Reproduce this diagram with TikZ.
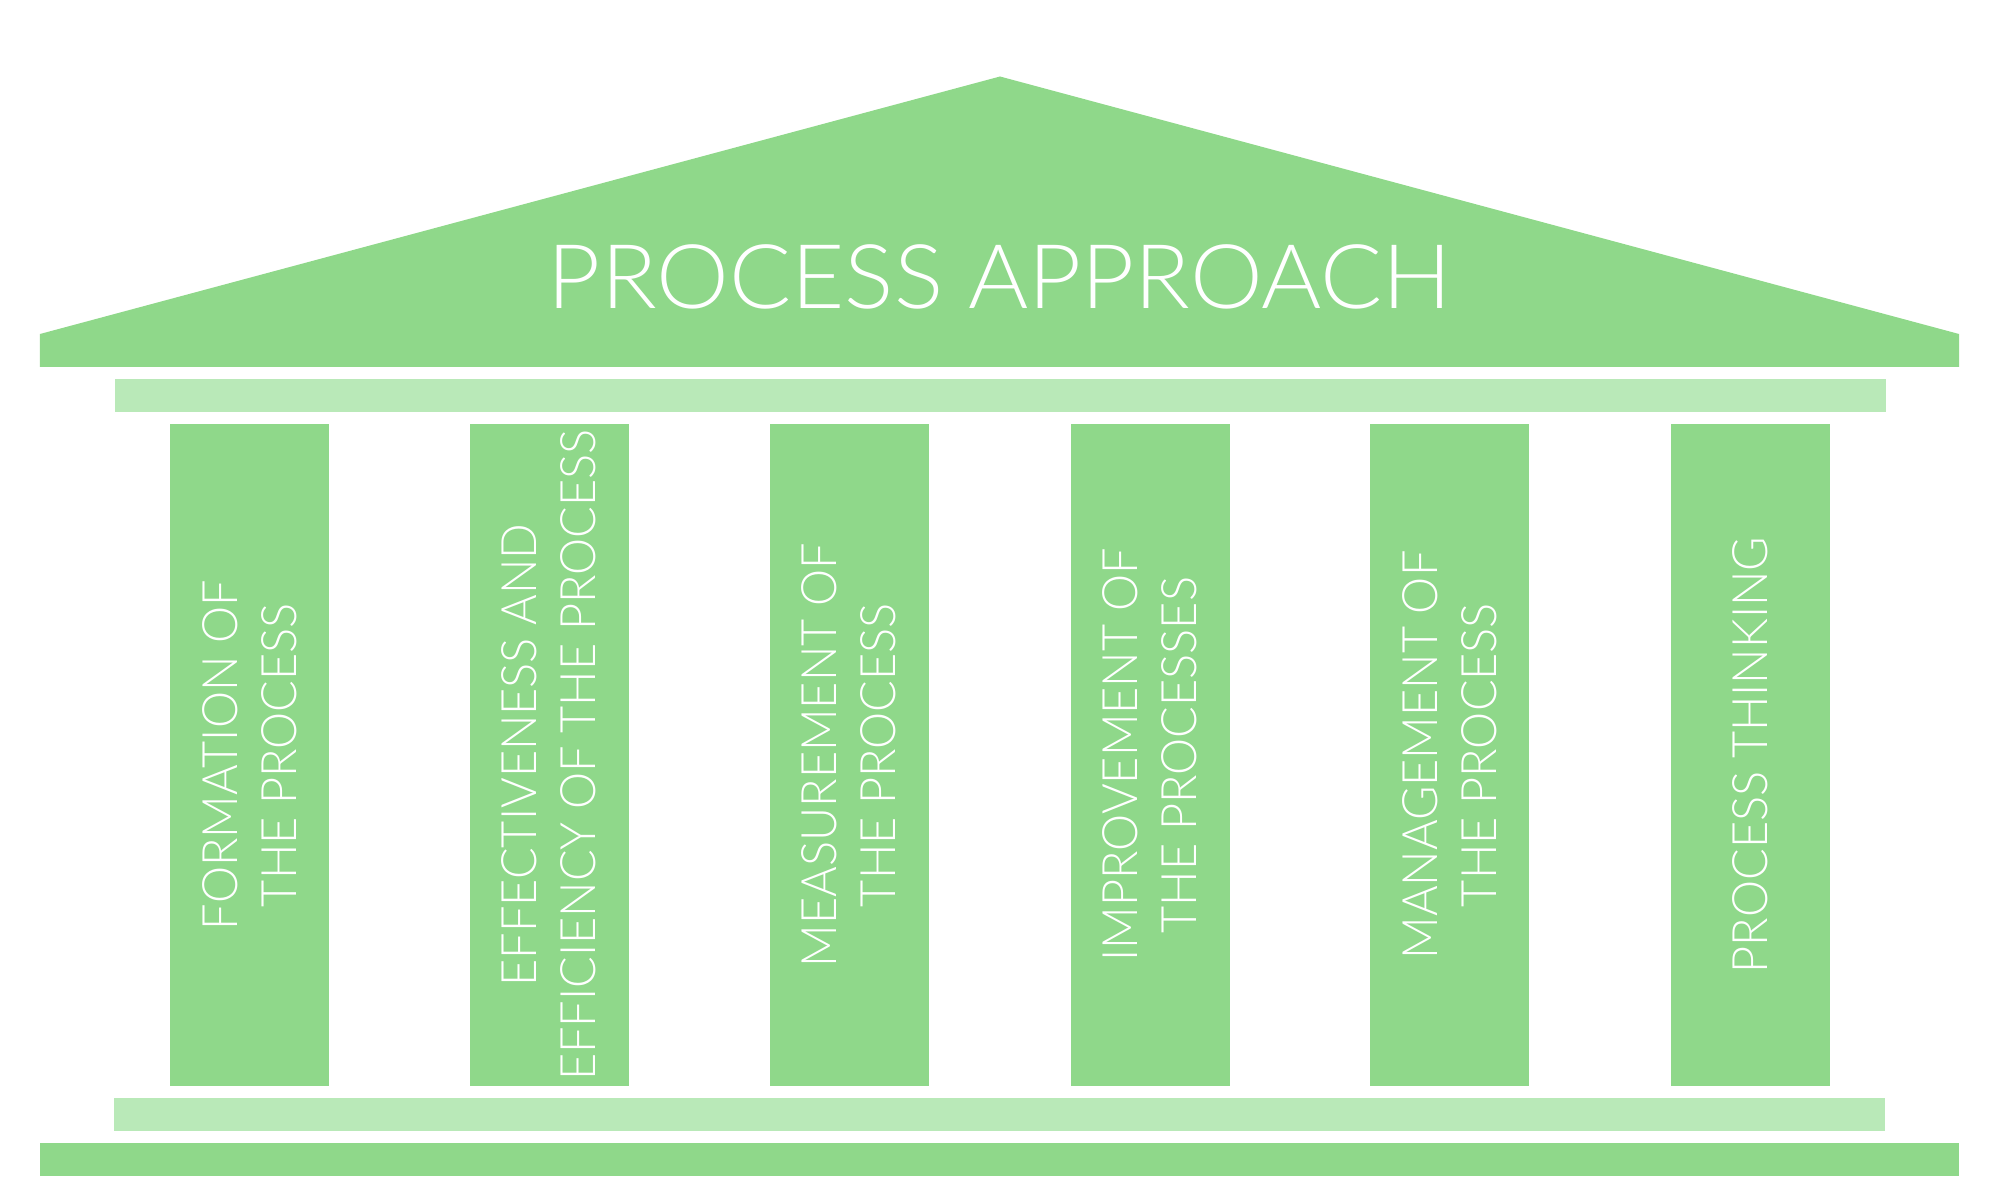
\documentclass[tikz,border=0pt]{standalone}
\usepackage{fontspec}
\setmainfont{Lato}[UprightFont=* Light,FakeStretch=0.96]
\newfontfamily\roofface{Lato}[UprightFont=* Light,FakeStretch=1.03]
\usepackage{tikz}
\definecolor{pillargreen}{HTML}{8FD88A}
\definecolor{barlight}{HTML}{B9E9B8}

\begin{document}
\begin{tikzpicture}[pillar/.style={fill=pillargreen,inner sep=0pt,minimum width=1.59cm,minimum height=6.62cm},
  pillartext/.style={rotate=90,align=center,text=white,inner sep=0pt,font=\fontsize{13.9}{16.8}\selectfont}]
  \useasboundingbox (0,0) rectangle (20,12);
  % tejado
  \fill[pillargreen] (0.40,8.33)--(0.40,8.66)--(10.0,11.235)--(19.59,8.66)--(19.59,8.33)--cycle;
  \node[anchor=base,text=white,font=\roofface\fontsize{25.4}{30}\selectfont] (title) at (10.0,8.91){PROCESS APPROACH};
  % barras
  \fill[barlight] (1.15,7.88) rectangle (18.86,8.21);
  \fill[barlight] (1.14,0.69) rectangle (18.85,1.02);
  \fill[pillargreen] (0.40,0.24) rectangle (19.59,0.57);
  % columnas
  \node[pillar] (formation) at (2.495,4.45){};
  \node[pillar] (efficiency) at (5.49,4.45){};
  \node[pillar] (measurement) at (8.49,4.45){};
  \node[pillar] (improvement) at (11.50,4.45){};
  \node[pillar] (management) at (14.495,4.45){};
  \node[pillar] (thinking) at (17.505,4.45){};
  % textos
  \node[pillartext] at (formation){FORMATION OF\\THE PROCESS};
  \node[pillartext] at (efficiency){EFFECTIVENESS AND\\EFFICIENCY OF THE PROCESS};
  \node[pillartext] at (measurement){MEASUREMENT OF\\THE PROCESS};
  \node[pillartext] at (improvement){IMPROVEMENT OF\\THE PROCESSES};
  \node[pillartext] at (management){MANAGEMENT OF\\THE PROCESS};
  \node[pillartext] at (thinking){PROCESS THINKING};
\end{tikzpicture}
\end{document}
